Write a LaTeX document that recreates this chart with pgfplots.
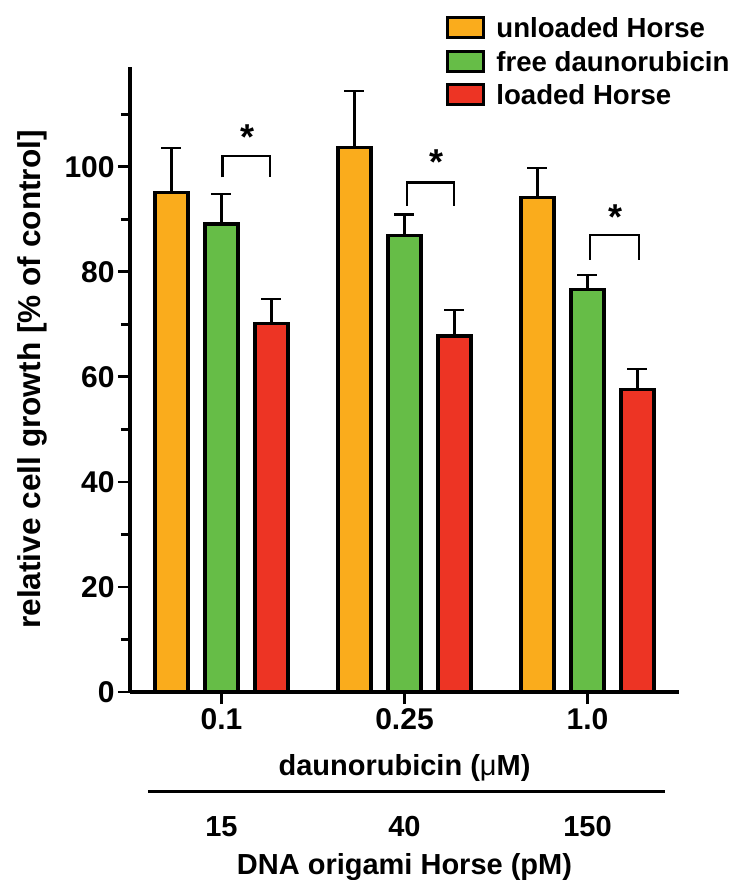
\documentclass[border=0pt]{standalone}
\usepackage{pgfplots}
\pgfplotsset{compat=1.18}
\usepackage{fontspec}
\setmainfont{Liberation Sans}
\definecolor{cOrange}{RGB}{250,172,28}
\definecolor{cGreen}{RGB}{102,189,71}
\definecolor{cRed}{RGB}{237,52,36}
\pgfplotsset{errs/.style={error bars/.cd, y dir=plus, y explicit,
  error bar style={line width=1.1pt,black},
  error mark options={line width=1.1pt, mark size=5pt, black, rotate=90}}}
\begin{document}
\begin{tikzpicture}
\begin{axis}[
  scale only axis, width=274.5pt, height=312.5pt,
  xmin=-0.5, xmax=2.5, ymin=0, ymax=119,
  axis lines*=left,
  axis line style={line width=1.6pt},
  xtick={0,1,2}, xticklabels={0.1,0.25,1.0},
  ytick={0,20,...,100}, minor ytick={10,30,...,110},
  tick align=outside, major tick length=6pt, minor tick length=4.5pt,
  tick style={line width=1.4pt, black},
  /pgf/number format/assume math mode=true,
  ticklabel style={font=\fontsize{15}{18}\selectfont\bfseries},
  yticklabel style={inner xsep=1.5pt},
  xticklabel style={yshift=1.5pt},
  ybar=8.5pt, bar width=16.5pt,
  ylabel={relative cell growth [\% of control]},
  ylabel style={font=\fontsize{15.8}{18}\selectfont\bfseries, at={(axis description cs:-0.1785,0.5)}, anchor=center},
  xlabel={daunorubicin ({\mdseries μ}M)},
  xlabel style={font=\fontsize{14.5}{17}\selectfont\bfseries, at={(axis description cs:0.5,-0.1216)}, anchor=center},
  legend style={draw=none, fill=none, inner sep=0pt, at={(axis description cs:0.5756,1.0816)}, anchor=north west,
    font=\fontsize{13.8}{16}\selectfont\bfseries,
    nodes={inner ysep=0pt, inner xsep=1.5pt, text height=10pt, text depth=0pt},
    row sep=5.25pt, column sep=4pt},
  legend cell align=left,
  legend image code/.code={\draw[#1, line width=1.5pt] (0pt,-5pt) rectangle (18pt,5pt);},
  clip=false,
]
\addplot[fill=cOrange, draw=black, line width=1.6pt, errs] coordinates {
  (0,95.1) +- (0,8.5)
  (1,103.6) +- (0,10.9)
  (2,94.2) +- (0,5.6)
};
\addlegendentry{unloaded Horse}
\addplot[fill=cGreen, draw=black, line width=1.6pt, errs] coordinates {
  (0,89.1) +- (0,5.7)
  (1,86.9) +- (0,4.0)
  (2,76.7) +- (0,2.7)
};
\addlegendentry{free daunorubicin}
\addplot[fill=cRed, draw=black, line width=1.6pt, errs] coordinates {
  (0,70.2) +- (0,4.7)
  (1,67.8) +- (0,5.0)
  (2,57.6) +- (0,3.9)
};
\addlegendentry{loaded Horse}
% significance brackets
\addplot[sharp plot, black, line width=1.2pt, forget plot] coordinates {(0.005,98.0) (0.005,102.1) (0.265,102.1) (0.265,98.0)};
\addplot[sharp plot, black, line width=1.2pt, forget plot] coordinates {(1.015,92.6) (1.015,97.0) (1.27,97.0) (1.27,92.6)};
\addplot[sharp plot, black, line width=1.2pt, forget plot] coordinates {(2.015,82.3) (2.015,87.0) (2.28,87.0) (2.28,82.3)};
\node[font=\fontsize{18}{18}\selectfont\bfseries, anchor=base] at (axis cs:0.142,103.3) {*};
\node[font=\fontsize{18}{18}\selectfont\bfseries, anchor=base] at (axis cs:1.173,98.6) {*};
\node[font=\fontsize{18}{18}\selectfont\bfseries, anchor=base] at (axis cs:2.153,88.1) {*};
\end{axis}
\draw[line width=1.5pt] (9pt,-49.5pt) -- (267.5pt,-49.5pt);
\begin{scope}[every node/.style={font=\fontsize{14.5}{17}\selectfont\bfseries}]
\node at (45.75pt,-67.5pt) {15};
\node at (137.25pt,-67.5pt) {40};
\node at (228.75pt,-67.5pt) {150};
\node at (137.25pt,-87.5pt) {DNA origami Horse (pM)};
\end{scope}
\pgfresetboundingbox
\path[use as bounding box] (-65pt,-94pt) rectangle (301pt,346pt);
\end{tikzpicture}
\end{document}
